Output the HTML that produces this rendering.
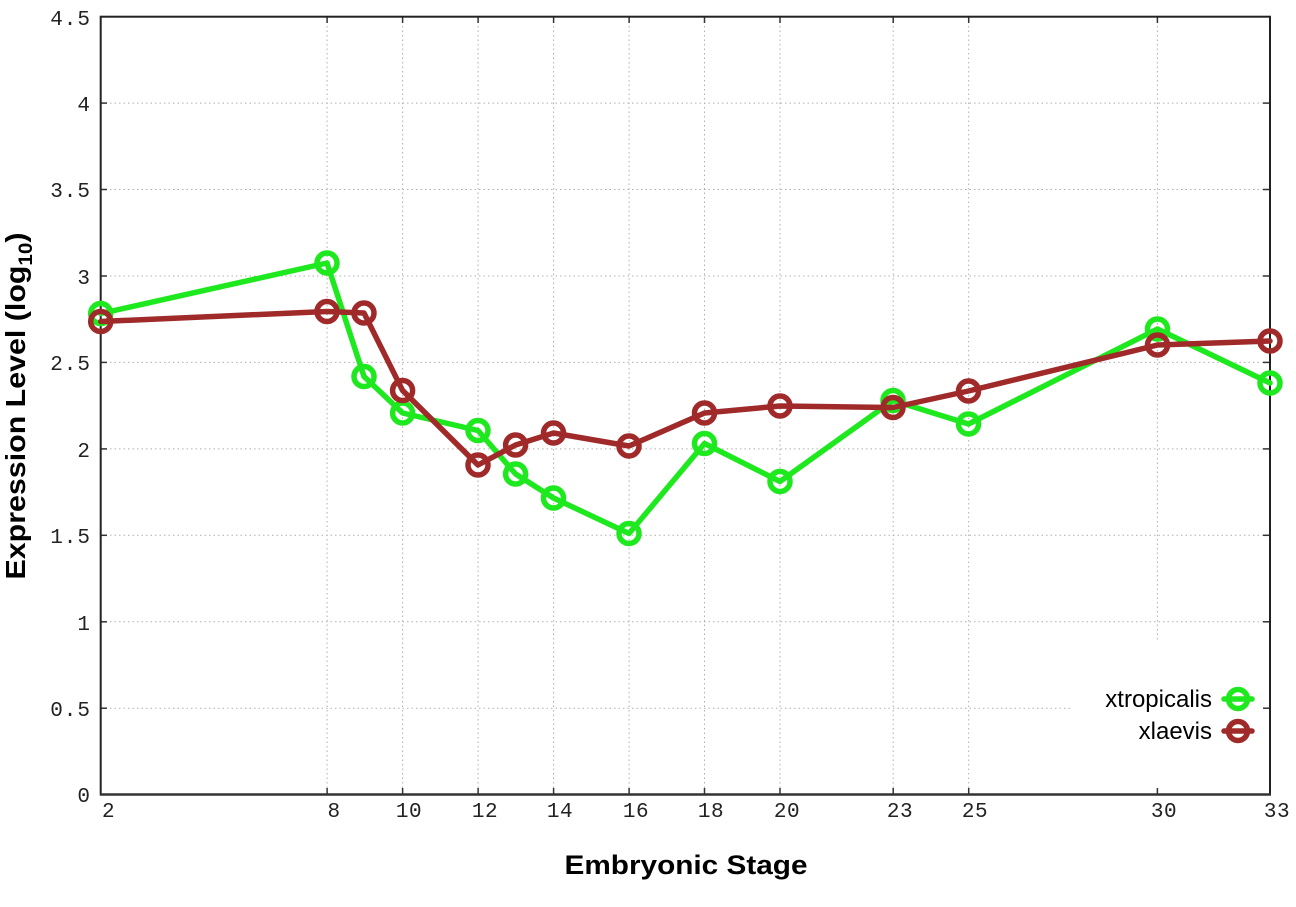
<!DOCTYPE html>
<html><head><meta charset="utf-8"><style>
html,body{margin:0;padding:0;background:#fff;}
svg{display:block;}
</style></head><body>
<svg width="1296" height="907" viewBox="0 0 1296 907" xmlns="http://www.w3.org/2000/svg">
<rect width="1296" height="907" fill="#fff"/>
<!-- grid -->
<g stroke="#b0b0b0" stroke-width="1" stroke-dasharray="1.5,3" fill="none">
<line x1="101" y1="103.1" x2="1269" y2="103.1"/>
<line x1="101" y1="189.5" x2="1269" y2="189.5"/>
<line x1="101" y1="276" x2="1269" y2="276"/>
<line x1="101" y1="362.4" x2="1269" y2="362.4"/>
<line x1="101" y1="448.9" x2="1269" y2="448.9"/>
<line x1="101" y1="535.3" x2="1269" y2="535.3"/>
<line x1="101" y1="621.8" x2="1269" y2="621.8"/>
<line x1="101" y1="708.2" x2="1070" y2="708.2"/>
<line x1="327.1" y1="17" x2="327.1" y2="794"/>
<line x1="402.6" y1="17" x2="402.6" y2="794"/>
<line x1="478.1" y1="17" x2="478.1" y2="794"/>
<line x1="553.6" y1="17" x2="553.6" y2="794"/>
<line x1="629.1" y1="17" x2="629.1" y2="794"/>
<line x1="704.5" y1="17" x2="704.5" y2="794"/>
<line x1="780" y1="17" x2="780" y2="794"/>
<line x1="893.2" y1="17" x2="893.2" y2="794"/>
<line x1="968.7" y1="17" x2="968.7" y2="794"/>
<line x1="1157.4" y1="17" x2="1157.4" y2="642"/>
</g>
<!-- ticks -->
<g stroke="#333" stroke-width="1.5">
<line x1="101" y1="103.1" x2="107" y2="103.1"/><line x1="1263" y1="103.1" x2="1269" y2="103.1"/>
<line x1="101" y1="189.5" x2="107" y2="189.5"/><line x1="1263" y1="189.5" x2="1269" y2="189.5"/>
<line x1="101" y1="276" x2="107" y2="276"/><line x1="1263" y1="276" x2="1269" y2="276"/>
<line x1="101" y1="362.4" x2="107" y2="362.4"/><line x1="1263" y1="362.4" x2="1269" y2="362.4"/>
<line x1="101" y1="448.9" x2="107" y2="448.9"/><line x1="1263" y1="448.9" x2="1269" y2="448.9"/>
<line x1="101" y1="535.3" x2="107" y2="535.3"/><line x1="1263" y1="535.3" x2="1269" y2="535.3"/>
<line x1="101" y1="621.8" x2="107" y2="621.8"/><line x1="1263" y1="621.8" x2="1269" y2="621.8"/>
<line x1="101" y1="708.2" x2="107" y2="708.2"/><line x1="1263" y1="708.2" x2="1269" y2="708.2"/>
<line x1="327.1" y1="794" x2="327.1" y2="788"/><line x1="327.1" y1="17" x2="327.1" y2="23"/>
<line x1="402.6" y1="794" x2="402.6" y2="788"/><line x1="402.6" y1="17" x2="402.6" y2="23"/>
<line x1="478.1" y1="794" x2="478.1" y2="788"/><line x1="478.1" y1="17" x2="478.1" y2="23"/>
<line x1="553.6" y1="794" x2="553.6" y2="788"/><line x1="553.6" y1="17" x2="553.6" y2="23"/>
<line x1="629.1" y1="794" x2="629.1" y2="788"/><line x1="629.1" y1="17" x2="629.1" y2="23"/>
<line x1="704.5" y1="794" x2="704.5" y2="788"/><line x1="704.5" y1="17" x2="704.5" y2="23"/>
<line x1="780" y1="794" x2="780" y2="788"/><line x1="780" y1="17" x2="780" y2="23"/>
<line x1="893.2" y1="794" x2="893.2" y2="788"/><line x1="893.2" y1="17" x2="893.2" y2="23"/>
<line x1="968.7" y1="794" x2="968.7" y2="788"/><line x1="968.7" y1="17" x2="968.7" y2="23"/>
<line x1="1157.4" y1="794" x2="1157.4" y2="788"/><line x1="1157.4" y1="17" x2="1157.4" y2="23"/>
</g>
<!-- border -->
<rect x="100.7" y="16.7" width="1169.3" height="777.8" fill="none" stroke="#222" stroke-width="2"/>
<line x1="100" y1="794.5" x2="1271" y2="794.5" stroke="#333" stroke-width="2.5"/>
<!-- y tick labels -->
<g font-family="'Liberation Mono', monospace" font-size="21" fill="#222" text-anchor="end" letter-spacing="1">
<text x="91" y="25">4.5</text>
<text x="91" y="111">4</text>
<text x="91" y="197">3.5</text>
<text x="91" y="284">3</text>
<text x="91" y="370">2.5</text>
<text x="91" y="457">2</text>
<text x="91" y="543">1.5</text>
<text x="91" y="630">1</text>
<text x="91" y="716">0.5</text>
<text x="91" y="802">0</text>
</g>
<!-- x tick labels -->
<g font-family="'Liberation Mono', monospace" font-size="21" fill="#222" text-anchor="middle" letter-spacing="0.5">
<text x="108.5" y="817">2</text>
<text x="334" y="817">8</text>
<text x="409" y="817">10</text>
<text x="485" y="817">12</text>
<text x="560" y="817">14</text>
<text x="636" y="817">16</text>
<text x="711" y="817">18</text>
<text x="787" y="817">20</text>
<text x="900" y="817">23</text>
<text x="975" y="817">25</text>
<text x="1164" y="817">30</text>
<text x="1277" y="817">33</text>
</g>
<!-- axis labels -->
<text x="686" y="874" font-family="'Liberation Sans', Arial, sans-serif" font-size="27" font-weight="bold" fill="#000" text-anchor="middle" textLength="243" lengthAdjust="spacingAndGlyphs">Embryonic Stage</text>
<text transform="translate(25,406) rotate(-90)" font-family="'Liberation Sans', Arial, sans-serif" font-size="28" font-weight="bold" fill="#000" text-anchor="middle" textLength="347" lengthAdjust="spacingAndGlyphs">Expression Level (log<tspan font-size="19" dy="7">10</tspan><tspan dy="-7">)</tspan></text>
<!-- legend -->
<g font-family="'Liberation Sans', Arial, sans-serif" font-size="24" fill="#000" text-anchor="end">
<text x="1212" y="707">xtropicalis</text>
<text x="1212" y="739">xlaevis</text>
</g>
<g fill="none" stroke-width="5.5" stroke-linecap="round" stroke-linejoin="round">
<line x1="1224" y1="699" x2="1252" y2="699" stroke="#1ee81e"/>
<circle cx="1238" cy="699" r="9.5" stroke="#1ee81e"/>
<line x1="1224" y1="731" x2="1252" y2="731" stroke="#a02a2a"/>
<circle cx="1238" cy="731" r="9.5" stroke="#a02a2a"/>
</g>
<!-- series xtropicalis -->
<g fill="none" stroke="#1ee81e" stroke-width="5.5" stroke-linejoin="round" stroke-linecap="round">
<polyline points="100.7,313.5 327,263 364,376.5 402.6,413 478,430.5 515.6,474 553.5,498 629,533.5 704.5,443.5 780,481.5 893,400.5 968.5,424 1157.5,329 1270,383"/>
<circle cx="100.7" cy="313.5" r="10"/>
<circle cx="327" cy="263" r="10"/>
<circle cx="364" cy="376.5" r="10"/>
<circle cx="402.6" cy="413" r="10"/>
<circle cx="478" cy="430.5" r="10"/>
<circle cx="515.6" cy="474" r="10"/>
<circle cx="553.5" cy="498" r="10"/>
<circle cx="629" cy="533.5" r="10"/>
<circle cx="704.5" cy="443.5" r="10"/>
<circle cx="780" cy="481.5" r="10"/>
<circle cx="893" cy="400.5" r="10"/>
<circle cx="968.5" cy="424" r="10"/>
<circle cx="1157.5" cy="329" r="10"/>
<circle cx="1270" cy="383" r="10"/>
</g>
<!-- series xlaevis -->
<g fill="none" stroke="#a02a2a" stroke-width="5.5" stroke-linejoin="round" stroke-linecap="round">
<polyline points="100.7,321.5 327,311.5 364,313 402.6,390.5 478,465 515.6,445 553.5,433 629,446 704.5,413 780,406 893,407.5 968.5,391 1157.5,345 1270,341"/>
<circle cx="100.7" cy="321.5" r="10"/>
<circle cx="327" cy="311.5" r="10"/>
<circle cx="364" cy="313" r="10"/>
<circle cx="402.6" cy="390.5" r="10"/>
<circle cx="478" cy="465" r="10"/>
<circle cx="515.6" cy="445" r="10"/>
<circle cx="553.5" cy="433" r="10"/>
<circle cx="629" cy="446" r="10"/>
<circle cx="704.5" cy="413" r="10"/>
<circle cx="780" cy="406" r="10"/>
<circle cx="893" cy="407.5" r="10"/>
<circle cx="968.5" cy="391" r="10"/>
<circle cx="1157.5" cy="345" r="10"/>
<circle cx="1270" cy="341" r="10"/>
</g>
</svg>
</body></html>
